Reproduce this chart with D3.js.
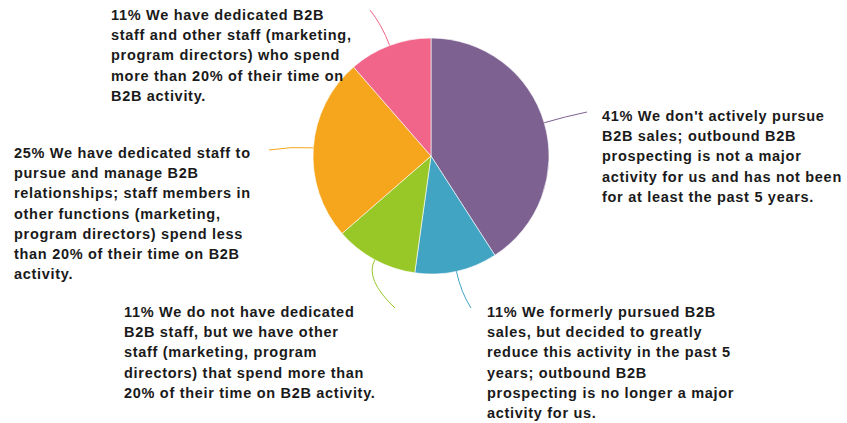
<!DOCTYPE html>
<html>
<head>
<meta charset="utf-8">
<script src="https://cdn.jsdelivr.net/npm/d3@7"></script>
<style>
  body { margin: 0; background: #fff; }
  text { font-family: "Liberation Sans", Arial, sans-serif; font-weight: bold; font-size: 14.5px; letter-spacing: 0.7px; fill: #1a1a1a; }
</style>
</head>
<body>
<div id="chart"></div>
<script>
// slice values (percent) and labels, clockwise from 12 o'clock
var values = [40.9, 11.3, 11.4, 25.0, 11.4];
var colors = ["#7d6190", "#42a4c3", "#98c828", "#f5a61c", "#f06589"];
var labelLines = [
    ["We don't actively pursue", "B2B sales; outbound B2B", "prospecting is not a major", "activity for us and has not been", "for at least the past 5 years."],
    ["We formerly pursued B2B", "sales, but decided to greatly", "reduce this activity in the past 5", "years; outbound B2B", "prospecting is no longer a major", "activity for us."],
    ["We do not have dedicated", "B2B staff, but we have other", "staff (marketing, program", "directors) that spend more than", "20% of their time on B2B activity."],
    ["We have dedicated staff to", "pursue and manage B2B", "relationships; staff members in", "other functions (marketing,", "program directors) spend less", "than 20% of their time on B2B", "activity."],
    ["We have dedicated B2B", "staff and other staff (marketing,", "program directors) who spend", "more than 20% of their time on", "B2B activity."]
];

// layout: where each leader line ends and where its text block starts
var layout = [
    { lineEnd: [587, 112], textX: 602, textY: 121 },
    { lineEnd: [471, 308], textX: 487, textY: 317 },
    { lineEnd: [395, 308], textX: 124, textY: 317 },
    { lineEnd: [269, 150], textX: 14, textY: 158 },
    { lineEnd: [370, 10], textX: 111, textY: 20 }
];

var width = 847, height = 423,
    cx = 431, cy = 156, radius = 118,
    lineHeight = 20.2;

var svg = d3.select("#chart").append("svg")
    .attr("width", width)
    .attr("height", height);

var pie = d3.pie().sort(null).value(function (d) { return d; });
var arcs = pie(values);

var arc = d3.arc().innerRadius(0).outerRadius(radius);

var g = svg.append("g")
    .attr("transform", "translate(" + cx + "," + cy + ")");

// slices
g.selectAll(".slice")
    .data(arcs)
    .enter().append("path")
    .attr("class", "slice")
    .attr("d", arc)
    .attr("fill", function (d, i) { return colors[i]; })
    .attr("stroke", "#fff")
    .attr("stroke-width", 0.6);

// leader lines: start at the middle of each slice's arc, bend out to the label
g.selectAll(".leader")
    .data(arcs)
    .enter().append("path")
    .attr("class", "leader")
    .attr("fill", "none")
    .attr("stroke", function (d, i) { return colors[i]; })
    .attr("stroke-width", 1)
    .attr("d", function (d, i) {
        var a = (d.startAngle + d.endAngle) / 2;
        var sx = Math.sin(a) * radius, sy = -Math.cos(a) * radius;
        var k = 22;
        var c1x = sx + Math.sin(a) * k, c1y = sy - Math.cos(a) * k;
        var ex = layout[i].lineEnd[0] - cx, ey = layout[i].lineEnd[1] - cy;
        return "M" + sx + "," + sy + "Q" + c1x + "," + c1y + " " + ex + "," + ey;
    });

// labels
svg.selectAll(".label")
    .data(arcs)
    .enter().append("text")
    .attr("class", "label")
    .attr("x", function (d, i) { return layout[i].textX; })
    .attr("y", function (d, i) { return layout[i].textY; })
    .each(function (d, i) {
        var t = d3.select(this);
        labelLines[i].forEach(function (line, j) {
            t.append("tspan")
                .attr("x", layout[i].textX)
                .attr("y", layout[i].textY + j * lineHeight)
                .text(j === 0 ? Math.round(d.data) + "% " + line : line);
        });
    });
</script>
</body>
</html>
